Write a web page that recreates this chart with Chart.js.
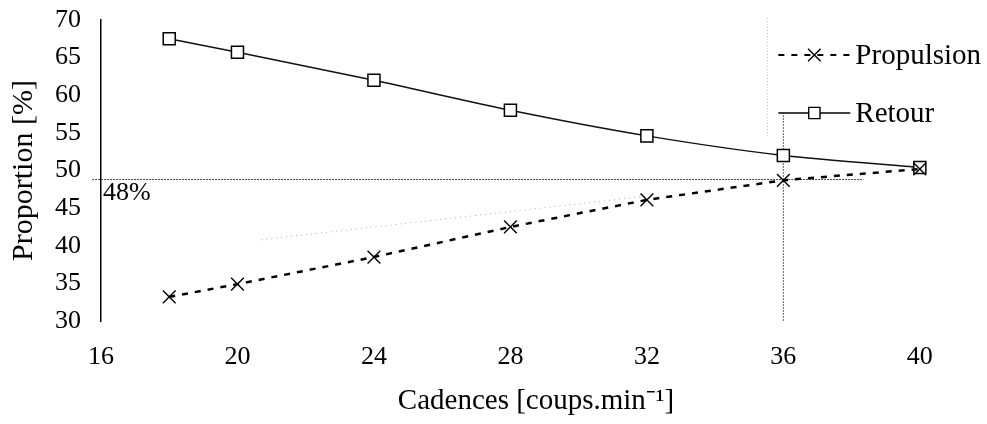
<!DOCTYPE html>
<html lang="fr">
<head>
  <meta charset="UTF-8">
  <title>Proportion propulsion / retour selon la cadence</title>
  <style>
    html, body { margin: 0; padding: 0; background: #fff; }
    #wrap { width: 987px; height: 424px; position: relative; }
  </style>
  <script src="https://cdn.jsdelivr.net/npm/chart.js"></script>
</head>
<body>
<div id="wrap"><canvas id="graphe"></canvas></div>

<script>
  // Valeurs
  const cadences = [18, 20, 24, 28, 32, 36, 40];
  const propulsion = [33.2, 34.9, 38.5, 42.5, 46.1, 48.7, 50.2];
  const retour = [67.5, 65.7, 62.0, 58.0, 54.6, 52.0, 50.4];
  const xTicks = [16, 20, 24, 28, 32, 36, 40];
  const yTicks = [30, 35, 40, 45, 50, 55, 60, 65, 70];

  // Repères tracés à la main sur la figure
  const seuil = 48.8;
  const seuilTexte = '48%';
  const cadenceRepere = 36;
  const tendanceX = [20.7, 32];
  const tendanceY = [40.8, 46.6];

  const police = 'Liberation Serif, Times New Roman, serif';

  // petite fonction pour dessiner les marqueurs de la légende
  function marqueur(ctx, style, x, y, r) {
    ctx.save();
    ctx.strokeStyle = '#000';
    ctx.lineWidth = 1.4;
    ctx.setLineDash([]);
    ctx.beginPath();
    if (style === 'crossRot') {
      ctx.moveTo(x - r * 0.7, y - r * 0.7); ctx.lineTo(x + r * 0.7, y + r * 0.7);
      ctx.moveTo(x + r * 0.7, y - r * 0.7); ctx.lineTo(x - r * 0.7, y + r * 0.7);
      ctx.stroke();
    } else {
      const s = r * Math.SQRT1_2;
      ctx.fillStyle = '#fff';
      ctx.rect(x - s, y - s, 2 * s, 2 * s);
      ctx.fill();
      ctx.stroke();
    }
    ctx.restore();
  }

  const lignesLegende = { propulsion: 55, retour: 113 };

  // Repères (ligne 48 %, verticale à 36) dessinés sous les courbes
  const reperes = {
    id: 'reperes',
    beforeDatasetsDraw(chart) {
      const { ctx, scales: { x, y } } = chart;
      const ys = y.getPixelForValue(seuil);
      ctx.save();
      ctx.strokeStyle = '#444';
      ctx.lineWidth = 1;
      ctx.setLineDash([2, 1]);
      ctx.beginPath();
      ctx.moveTo(x.getPixelForValue(15.74), ys);
      ctx.lineTo(x.getPixelForValue(38.35), ys);
      ctx.stroke();

      const xr = x.getPixelForValue(cadenceRepere);
      ctx.strokeStyle = '#666';
      ctx.beginPath();
      ctx.moveTo(xr, y.getPixelForValue(30));
      ctx.lineTo(xr, lignesLegende.retour);
      ctx.stroke();

      // bord gauche de la légende, très pâle
      ctx.strokeStyle = '#bbb';
      ctx.setLineDash([1, 2]);
      ctx.beginPath();
      ctx.moveTo(xr - 16, y.getPixelForValue(70) - 2);
      ctx.lineTo(xr - 16, lignesLegende.retour + 24);
      ctx.stroke();

      ctx.setLineDash([]);
      ctx.fillStyle = '#000';
      ctx.font = '26px ' + police;
      ctx.textAlign = 'left';
      ctx.textBaseline = 'top';
      ctx.fillText(seuilTexte, x.left + 2, ys + 1);
      ctx.restore();
    }
  };

  // Légende à la main : trait + marqueur + texte
  const legende = {
    id: 'legende',
    afterDraw(chart) {
      const { ctx, scales: { x } } = chart;
      const x0 = x.getPixelForValue(cadenceRepere) - 5;
      const x1 = x0 + 72;
      chart.data.datasets.forEach(ds => {
        if (!ds.legende) return;
        const yy = lignesLegende[ds.legende];
        ctx.save();
        ctx.strokeStyle = '#000';
        ctx.lineWidth = ds.legende === 'propulsion' ? 2 : 1.3;
        ctx.setLineDash(ds.borderDash || []);
        ctx.beginPath();
        ctx.moveTo(x0, yy);
        ctx.lineTo(x1, yy);
        ctx.stroke();
        ctx.restore();
        marqueur(ctx, ds.pointStyle, (x0 + x1) / 2, yy, ds.pointStyle === 'rect' ? 8 : 9);
        ctx.save();
        ctx.fillStyle = '#000';
        ctx.font = '29px ' + police;
        ctx.textAlign = 'left';
        ctx.textBaseline = 'middle';
        ctx.fillText(ds.label, x1 + 5, yy + 1);
        ctx.restore();
      });
    }
  };

  const config = {
    type: 'line',
    data: {
      datasets: [
        {
          label: 'Propulsion',
          legende: 'propulsion',
          data: cadences.map((c, i) => ({ x: c, y: propulsion[i] })),
          borderColor: '#000',
          borderWidth: 2.5,
          borderDash: [6, 7],
          pointStyle: 'crossRot',
          pointRadius: 9,
          pointBorderColor: '#000',
          pointBorderWidth: 1.4,
          tension: 0
        },
        {
          label: 'Retour',
          legende: 'retour',
          data: cadences.map((c, i) => ({ x: c, y: retour[i] })),
          borderColor: '#111',
          borderWidth: 1.5,
          pointStyle: 'rect',
          pointRadius: 8.5,
          pointBackgroundColor: '#fff',
          pointBorderColor: '#000',
          pointBorderWidth: 1.5,
          tension: 0.25
        },
        {
          label: 'tendance',
          data: tendanceX.map((c, i) => ({ x: c, y: tendanceY[i] })),
          borderColor: '#aaa',
          borderWidth: 1,
          borderDash: [1, 4],
          pointRadius: 0
        }
      ]
    },
    options: {
      responsive: true,
      maintainAspectRatio: false,
      animation: false,
      layout: { padding: { top: 20, right: 16, left: 0, bottom: 0 } },
      plugins: {
        legend: { display: false },
        tooltip: { enabled: false }
      },
      scales: {
        x: {
          type: 'linear',
          min: 16,
          max: 41.5,
          afterBuildTicks: s => { s.ticks = xTicks.map(v => ({ value: v })); },
          afterFit: s => { s.height = 103; s.paddingLeft = 0; s.paddingRight = 0; },
          grid: { display: false, drawTicks: false },
          border: { display: false },
          ticks: { color: '#000', padding: 21, font: { family: police, size: 26 } },
          title: {
            display: true,
            text: 'Cadences [coups.min⁻¹]',
            color: '#000',
            font: { family: police, size: 29 },
            padding: { top: 0, bottom: 5 }
          }
        },
        y: {
          min: 30,
          max: 70,
          afterBuildTicks: s => { s.ticks = yTicks.map(v => ({ value: v })); },
          afterFit: s => { s.width = 101; s.paddingTop = 0; s.paddingBottom = 0; },
          grid: { display: false, drawTicks: false },
          border: { display: true, color: '#000', width: 1.5 },
          ticks: { color: '#000', padding: 20, font: { family: police, size: 26 } },
          title: {
            display: true,
            text: 'Proportion [%]',
            color: '#000',
            font: { family: police, size: 30 },
            padding: { top: 6, bottom: 0 }
          }
        }
      }
    },
    plugins: [reperes, legende]
  };

  new Chart(document.getElementById('graphe').getContext('2d'), config);
</script>
</body>
</html>
